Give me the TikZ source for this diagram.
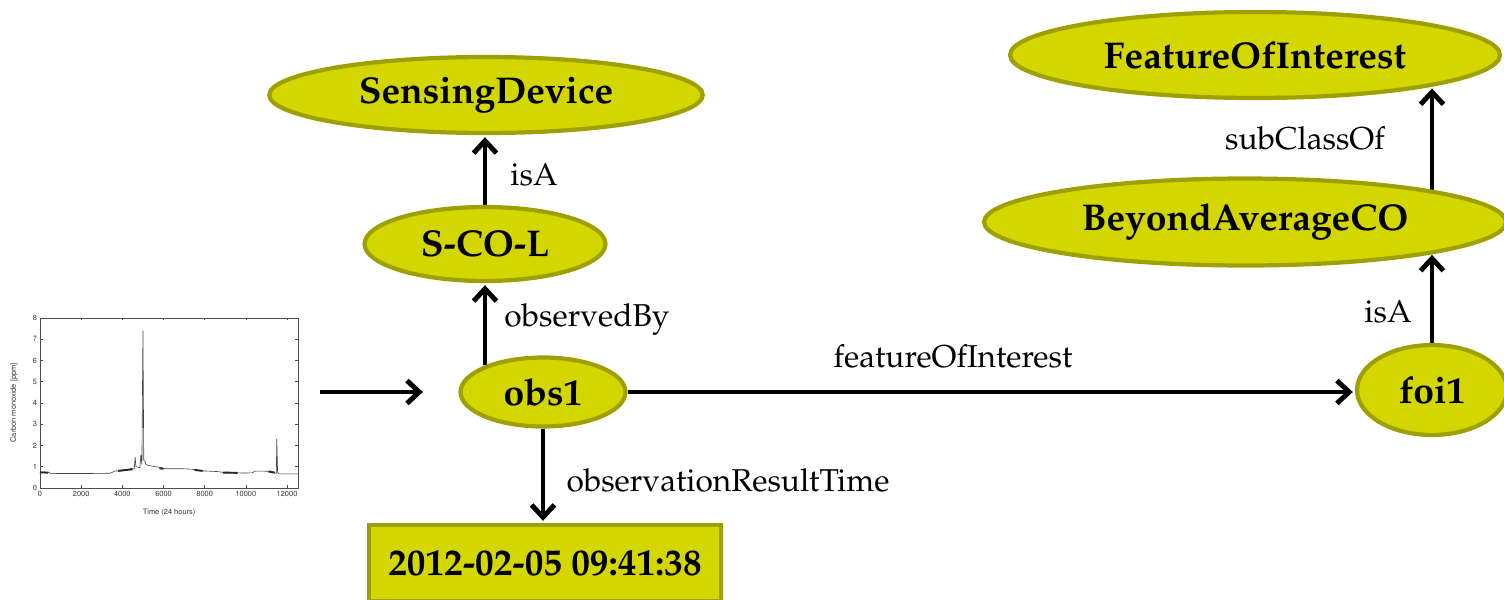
\documentclass[tikz,border=0pt]{standalone}
\usepackage[T1]{fontenc}
\usepackage{mathpazo}
\usepackage[scaled=0.92]{helvet}
\usetikzlibrary{shapes.geometric,arrows.meta}
\definecolor{nodefill}{RGB}{212,214,0}
\definecolor{nodeedge}{RGB}{158,160,0}
\pgfdeclarelayer{edges}
\pgfsetlayers{edges,main}
\tikzset{
  classnode/.style={ellipse, draw=nodeedge, fill=nodefill, line width=2.4pt, inner sep=0pt,
    font=\fontsize{21.2}{25}\selectfont\bfseries},
  valuenode/.style={rectangle, draw=nodeedge, fill=nodefill, line width=2.4pt, inner sep=0pt,
    font=\fontsize{21.2}{25}\selectfont\bfseries},
  rel/.style={line width=2.8pt, -{Straight Barb[length=7pt,width=13pt]}, shorten >=1.2pt},
  rellabel/.style={font=\fontsize{18}{21}\selectfont, inner sep=0pt},
  ticklabel/.style={font=\sffamily\fontsize{4.6}{5.5}\selectfont, inner sep=1pt, text=black!80},
  curve/.style={line width=0.35pt, black!75, line join=round},
  noisy/.style={line width=1.1pt, black!85},
}
\begin{document}
\begin{tikzpicture}[x=0.02cm,y=-0.02cm]
\useasboundingbox (0,0) rectangle (1504,599);

% ontology nodes
\node[classnode, minimum width=8.67cm, minimum height=1.52cm] (sd) at (486,95) {SensingDevice};
\node[classnode, minimum width=4.82cm, minimum height=1.48cm] (scol) at (485,244) {S-CO-L};
\node[classnode, minimum width=3.3cm, minimum height=1.38cm] (obs) at (543,392) {obs1};
\node[valuenode, minimum width=7.03cm, minimum height=1.52cm] (time) at (545,563) {2012-02-05 09:41:38};
\node[classnode, minimum width=9.8cm, minimum height=1.72cm] (foiclass) at (1255,55) {FeatureOfInterest};
\node[classnode, minimum width=10.44cm, minimum height=1.74cm] (bac) at (1245,222) {BeyondAverageCO};
\node[classnode, minimum width=3.0cm, minimum height=1.8cm] (foi) at (1432,390) {foi1};

% relations
\coordinate (plotout) at (320,392);
\coordinate (plotin) at (425,392);
\begin{pgfonlayer}{edges}
\draw[rel] (plotout) -- (plotin);
\draw[rel] (scol.north) -- (scol.north |- sd.south);
\draw[rel] (scol.south |- obs.155) -- (scol.south);
\draw[rel] (obs.south) -- (obs.south |- time.north);
\draw[rel] (obs.east) -- (obs.east -| foi.west);
\draw[rel] (foi.north) -- (foi.north |- bac.-9.6);
\draw[rel] (foi.north |- bac.9.6) -- (foi.north |- foiclass.-10.3);
\end{pgfonlayer}

\node[rellabel] (lisa1) at (534,175) {isA};
\node[rellabel] (lobsby) at (587,320) {observedBy};
\node[rellabel] (lrestime) at (728,480) {observationResultTime};
\node[rellabel] (lfoi) at (953,356) {featureOfInterest};
\node[rellabel] (lisa2) at (1388,312) {isA};
\node[rellabel] (lsub) at (1305,138) {subClassOf};

% carbon monoxide time series
\begin{scope}[shift={(0.8cm,-9.76cm)}, x=0.00040833cm, y=0.425cm]
  \draw[line width=0.4pt, black!70] (0,0) rectangle (12540,8);
  \foreach \t in {0,2000,...,12000} {
    \draw[line width=0.3pt, black!70] (\t,0) -- ++(0,0.12) (\t,8) -- ++(0,-0.12);
    \node[ticklabel, anchor=north] (xt\t) at (\t,-0.05) {\t};
  }
  \foreach \v in {0,...,8} {
    \draw[line width=0.3pt, black!70] (0,\v) -- ++(150,0) (12540,\v) -- ++(-150,0);
    \node[ticklabel, anchor=east] (yt\v) at (-40,\v) {\v};
  }
  \node[ticklabel, rotate=90] (ylab) at (-1270,4) {Carbon monoxide [ppm]};
  \node[ticklabel] (xlab) at (6270,-1.17) {Time (24 hours)};
  \draw[curve] (0,0.75) -- (100,0.72) -- (200,0.76) -- (300,0.71) -- (400,0.74) -- (500,0.69)
    -- (800,0.68) -- (1500,0.68) -- (2500,0.68) -- (3400,0.69) -- (3550,0.75) -- (3650,0.80)
    -- (3800,0.79) -- (4000,0.85) -- (4200,0.84) -- (4400,0.90) -- (4580,0.90) -- (4620,1.45)
    -- (4660,1.0) -- (4850,0.95) -- (4900,1.55) -- (4950,1.1) -- (5000,7.4) -- (5040,1.3)
    -- (5100,1.25) -- (5150,1.1) -- (5300,1.05) -- (5600,1.0) -- (5900,0.95) -- (6000,0.9)
    -- (6500,0.9) -- (7000,0.9) -- (7400,0.88) -- (7600,0.83) -- (7900,0.80) -- (8200,0.79)
    -- (8600,0.77) -- (9000,0.72) -- (9500,0.71) -- (10000,0.70) -- (10300,0.71) -- (10450,0.79)
    -- (10800,0.79) -- (11200,0.78) -- (11400,0.70) -- (11480,0.68) -- (11500,2.3) -- (11540,0.72)
    -- (11600,0.66) -- (12000,0.66) -- (12540,0.66);
  \draw[noisy] (0,0.73) -- (400,0.72);
  \draw[noisy] (3800,0.80) -- (4500,0.88);
  \draw[noisy] (5800,0.93) -- (6000,0.90);
  \draw[noisy] (7500,0.85) -- (7900,0.80);
  \draw[noisy] (8900,0.72) -- (9600,0.71);
  \draw[noisy] (11100,0.77) -- (11400,0.72);
\end{scope}
\end{tikzpicture}
\end{document}
